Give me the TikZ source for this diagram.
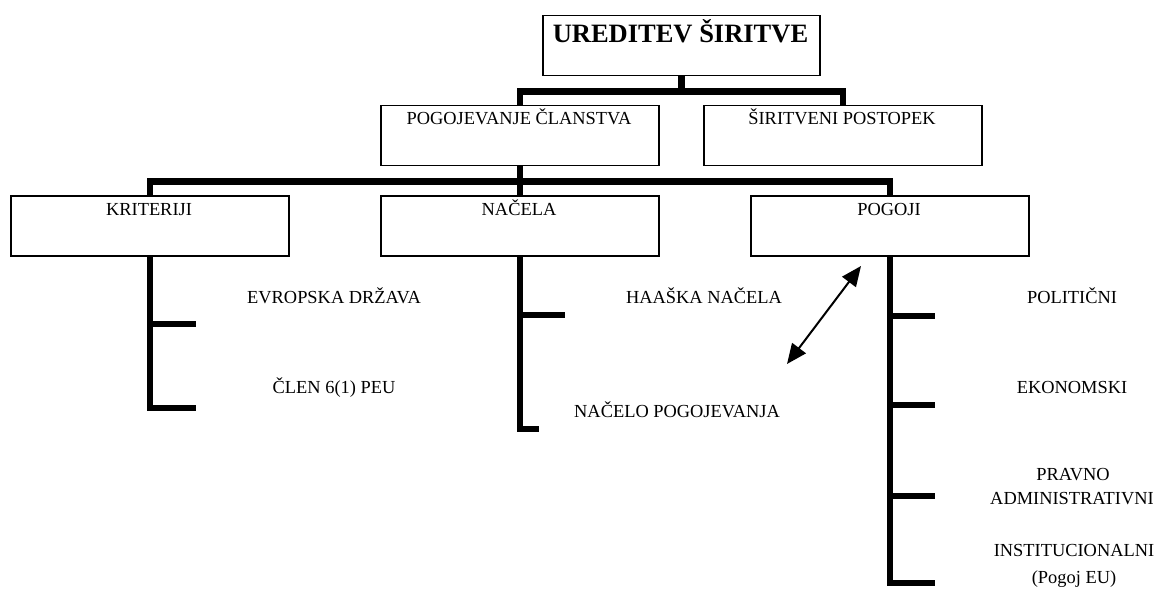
\documentclass[tikz,border=0pt]{standalone}
\usepackage{fontspec}
\setmainfont{Liberation Serif}
\usetikzlibrary{arrows.meta}
\begin{document}
\begin{tikzpicture}[x=1pt,y=-1pt,
  box/.style={draw,line width=1.5pt,minimum width=#1,minimum height=60pt,inner sep=0pt,anchor=north west},
  box/.default=278pt,
  lbl/.style={anchor=base,inner sep=0pt,font=\fontsize{18.4}{22}\selectfont},
  conn/.style={line width=6.5pt,line join=miter},
  dbl/.style={line width=2pt,{Triangle[length=20pt,width=17pt]}-{Triangle[length=20pt,width=17pt]}}]
\useasboundingbox (0,0) rectangle (1158,596);
% boxes
\node[box=277pt] (top) at (542,15) {};
\node[lbl,font=\bfseries\fontsize{26.5}{30}\selectfont] (toptxt) at (680.5,43) {UREDITEV ŠIRITVE};
\node[box] (pc) at (380,105) {};
\node[lbl] (pctxt) at (519,125) {POGOJEVANJE ČLANSTVA};
\node[box] (sp) at (703,105) {};
\node[lbl] (sptxt) at (842,125) {ŠIRITVENI POSTOPEK};
\node[box] (kr) at (10,195) {};
\node[lbl] (krtxt) at (149,215) {KRITERIJI};
\node[box] (na) at (380,195) {};
\node[lbl] (natxt) at (519,215) {NAČELA};
\node[box] (pg) at (750,195) {};
\node[lbl] (pgtxt) at (889,215) {POGOJI};
% connectors level 1
\draw[conn] (top.south) -- ++(0,15) coordinate (j1);
\draw[conn] (pc.north) |- (j1) -| (sp.north);
% connectors level 2
\draw[conn] (pc.south) -- ++(0,15) coordinate (j2);
\draw[conn] (kr.north) |- (j2) -| (pg.north);
\draw[conn] (na.north) -- (j2);
% sub-branches: kriteriji
\coordinate (k1) at (196,324);
\coordinate (k2) at (196,408);
\draw[conn] (kr.south) |- (k2);
\draw[conn] (kr.south |- k1) -- (k1);
\node[lbl] (t1) at (334,303) {EVROPSKA DRŽAVA};
\node[lbl] (t2) at (334,393) {ČLEN 6(1) PEU};
% sub-branches: nacela
\coordinate (n1) at (565,315);
\coordinate (n2) at (539,429);
\draw[conn] (na.south) |- (n2);
\draw[conn] (na.south |- n1) -- (n1);
\node[lbl] (t3) at (704,303) {HAAŠKA NAČELA};
\node[lbl] (t4) at (677,417) {NAČELO POGOJEVANJA};
% sub-branches: pogoji
\coordinate (p1) at (935,316);
\coordinate (p2) at (935,405);
\coordinate (p3) at (935,496);
\coordinate (p4) at (935,583);
\draw[conn] (pg.south) |- (p4);
\draw[conn] (pg.south |- p1) -- (p1);
\draw[conn] (pg.south |- p2) -- (p2);
\draw[conn] (pg.south |- p3) -- (p3);
\node[lbl] (t5) at (1072,303) {POLITIČNI};
\node[lbl] (t6) at (1072,393) {EKONOMSKI};
\node[lbl] (t7) at (1073,480) {PRAVNO};
\node[lbl] (t8) at (1072,504) {ADMINISTRATIVNI};
\node[lbl] (t9) at (1074,556) {INSTITUCIONALNI};
\node[lbl] (t10) at (1074,583) {(Pogoj EU)};
% double arrow
\coordinate (a1) at (787,364);
\coordinate (a2) at (861,266);
\draw[dbl] (a1) -- (a2);
\end{tikzpicture}
\end{document}
